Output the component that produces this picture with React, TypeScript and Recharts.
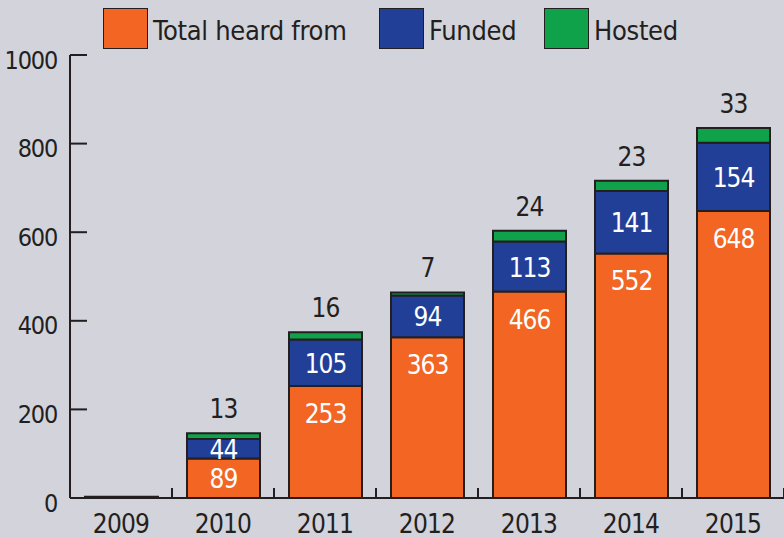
import { BarChart, Bar, XAxis, YAxis, LabelList, Legend } from 'recharts';

const years = ['2009', '2010', '2011', '2012', '2013', '2014', '2015'];
const heardFrom = [2, 89, 253, 363, 466, 552, 648];
const funded = [1, 44, 105, 94, 113, 141, 154];
const hosted = [0, 13, 16, 7, 24, 23, 33];
const yTicks = [0, 200, 400, 600, 800, 1000];

const data = years.map((year, i) => ({
  year,
  heardFrom: heardFrom[i],
  funded: funded[i],
  hosted: hosted[i],
}));

const FONT = '"DejaVu Sans Condensed", "DejaVu Sans", sans-serif';
const INK = '#231f20';
const BG = '#d2d3db';
const ORANGE = '#f26522';
const BLUE = '#223f98';
const GREEN = '#0fa24a';

const legendItems = [
  { label: 'Total heard from', color: ORANGE, x: 103 },
  { label: 'Funded', color: BLUE, x: 379 },
  { label: 'Hosted', color: GREEN, x: 544 },
];

function LegendBox() {
  return (
    <div style={{ position: 'relative', width: 784, height: 50 }}>
      {legendItems.map((it) => (
        <div
          key={it.label}
          style={{ position: 'absolute', left: it.x, top: 3, display: 'flex', alignItems: 'center' }}
        >
          <div
            style={{
              width: 43,
              height: 39,
              background: it.color,
              border: `1px solid ${INK}`,
            }}
          />
          <span style={{ marginLeft: 5, marginTop: 4, fontFamily: FONT, fontSize: 27, color: INK, letterSpacing: -0.3 }}>
            {it.label}
          </span>
        </div>
      ))}
    </div>
  );
}

function YTick({ x, y, payload }: any) {
  return (
    <g>
      <line x1={x} x2={x + 17} y1={y} y2={y} stroke={INK} strokeWidth={2} />
      <text
        x={x - 13}
        y={y + 5}
        textAnchor="end"
        dominantBaseline="central"
        fontFamily={FONT}
        fontSize={25}
        letterSpacing={-1.2}
        fill={INK}
      >
        {payload.value}
      </text>
    </g>
  );
}

function XTick({ x, y, payload }: any) {
  return (
    <g>
      <line x1={x + 51} x2={x + 51} y1={y} y2={y - 10} stroke={INK} strokeWidth={2} />
      <text
        x={x}
        y={y + 26}
        textAnchor="middle"
        dominantBaseline="central"
        fontFamily={FONT}
        fontSize={26}
        letterSpacing={-0.8}
        fill={INK}
      >
        {payload.value}
      </text>
    </g>
  );
}

const blueLabel = (props: any) => {
  const { x, y, width, height, value } = props;
  if (height < 5) return null;
  return (
    <text
      x={x + width / 2}
      y={y + height / 2 + 1}
      textAnchor="middle"
      dominantBaseline="central"
      fontFamily={FONT}
      fontSize={26}
      letterSpacing={-1}
      fill="#ffffff"
    >
      {value}
    </text>
  );
};

const orangeLabel = (props: any) => {
  const { x, y, width, height, value } = props;
  if (height < 5) return null;
  const cy = y + Math.min(height / 2, 27);
  return (
    <text
      x={x + width / 2}
      y={cy + 1}
      textAnchor="middle"
      dominantBaseline="central"
      fontFamily={FONT}
      fontSize={26}
      letterSpacing={-1}
      fill="#ffffff"
    >
      {value}
    </text>
  );
};

const topLabel = (props: any) => {
  const { x, y, width, value } = props;
  if (!value) return null;
  return (
    <text
      x={x + width / 2}
      y={y - 15}
      textAnchor="middle"
      fontFamily={FONT}
      fontSize={26}
      letterSpacing={-1}
      fill={INK}
    >
      {value}
    </text>
  );
};

export default function App() {
  return (
    <div style={{ position: 'absolute', left: 0, top: 0, width: 784, height: 538, background: BG }}>
      <BarChart
        width={784}
        height={538}
        data={data}
        margin={{ top: 5, right: 0, bottom: 0, left: 0 }}
        barSize={73}
      >
        <Legend
          verticalAlign="top"
          align="left"
          height={50}
          wrapperStyle={{ left: 0, width: 784 }}
          content={() => <LegendBox />}
        />
        <XAxis
          dataKey="year"
          height={40}
          axisLine={{ stroke: INK, strokeWidth: 2 }}
          tickLine={false}
          tickSize={0}
          tickMargin={0}
          tick={<XTick />}
          interval={0}
        />
        <YAxis
          width={70}
          domain={[0, 1000]}
          ticks={yTicks}
          axisLine={{ stroke: INK, strokeWidth: 2 }}
          tickLine={false}
          tickSize={0}
          tickMargin={0}
          tick={<YTick />}
        />
        <Bar dataKey="heardFrom" stackId="a" fill={ORANGE} stroke={INK} strokeWidth={2} isAnimationActive={false}>
          <LabelList dataKey="heardFrom" content={orangeLabel} />
        </Bar>
        <Bar dataKey="funded" stackId="a" fill={BLUE} stroke={INK} strokeWidth={2} isAnimationActive={false}>
          <LabelList dataKey="funded" content={blueLabel} />
        </Bar>
        <Bar dataKey="hosted" stackId="a" fill={GREEN} stroke={INK} strokeWidth={2} isAnimationActive={false}>
          <LabelList dataKey="hosted" content={topLabel} />
        </Bar>
      </BarChart>
    </div>
  );
}
